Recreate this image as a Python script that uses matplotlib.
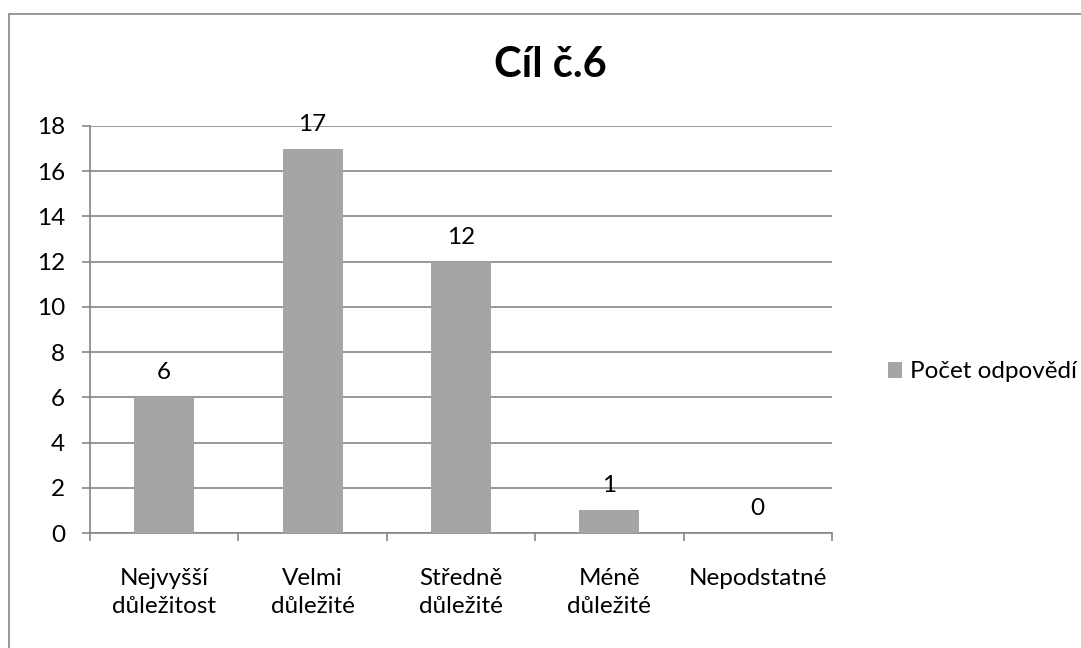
import matplotlib.pyplot as plt
from matplotlib.patches import Rectangle

categories = ['Nejvyšší\ndůležitost', 'Velmi\ndůležité', 'Středně\ndůležité', 'Méně\ndůležité', 'Nepodstatné']
values = [6, 17, 12, 1, 0]
series_name = 'Počet odpovědí'
title = 'Cíl č.6'

plt.rcParams['font.family'] = ['Lato', 'DejaVu Sans']

W, H = 1081, 648
fig = plt.figure(figsize=(W / 100, H / 100), dpi=100)

# outer chart border (right/bottom cropped off in the original)
fig.patches.append(Rectangle((9 / W, -0.1), 1.2, (H - 14) / H + 0.1, transform=fig.transFigure,
                             fill=False, edgecolor='#868686', linewidth=1.2))

ax = fig.add_axes([90 / W, (H - 533) / H, 742 / W, (533 - 126) / H])

gray = '#a5a5a5'
line = '#868686'
fs = 17.5
x = range(len(categories))
bars = ax.bar(x, values, width=0.405, color=gray, zorder=3, label=series_name)

for xi, v in zip(x, values):
    ax.annotate(str(v), (xi, v), xytext=(0, 10), textcoords='offset points',
                ha='center', va='bottom', fontsize=fs)

ax.set_xlim(-0.5, len(categories) - 0.5)
ax.set_ylim(0, 18)
ax.set_yticks(range(0, 19, 2))
ax.yaxis.grid(True, color=line, linewidth=1.2, zorder=0)
ax.tick_params(axis='y', length=6, width=1.2, color=line, labelsize=fs, pad=12)

ax.set_xticks(list(x))
ax.set_xticklabels(categories, fontsize=fs, linespacing=1.45)
ax.set_xticks([i - 0.5 for i in range(len(categories) + 1)], minor=True)
ax.tick_params(axis='x', which='major', length=0, pad=25)
ax.tick_params(axis='x', which='minor', length=6, width=1.2, color=line)

for s in ['top', 'right']:
    ax.spines[s].set_visible(False)
for s in ['left', 'bottom']:
    ax.spines[s].set_color(line)
    ax.spines[s].set_linewidth(1.2)

fig.text(550 / W, 1 - 65 / H, title, ha='center', va='center', fontsize=30, fontweight='bold')

fig.legend(handles=[bars], labels=[series_name], loc='center left',
           bbox_to_anchor=(866 / W, 1 - 372 / H), frameon=False, fontsize=fs,
           handlelength=0.6, handleheight=0.6, handletextpad=0.3)

fig.savefig('out.png', dpi=100)
